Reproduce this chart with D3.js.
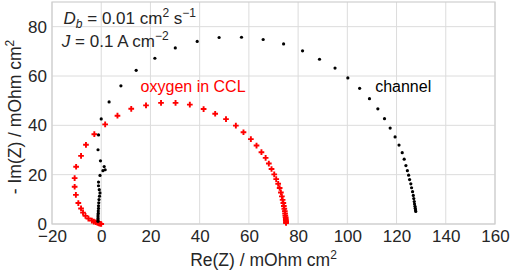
<!DOCTYPE html>
<html>
<head>
<meta charset="utf-8">
<script src="https://cdn.jsdelivr.net/npm/d3@7"></script>
<style>
  body { margin: 0; background: #fff; }
  svg { display: block; font-family: "Liberation Sans", Arial, sans-serif; }
</style>
</head>
<body>
<div id="nyquist-container"></div>
<script>
// channel impedance (black dots), Re / -Im in mOhm cm2
const channelRe = [-1.3, -1.3, -1.3, -1.3, -1.3, -1.2, -1.2, -1.1, -1.1, -1.0, -0.9, -0.7, -0.5, -0.8, -1.1, -1.1,
  -0.5, 0.7, 1.6, 1.2, -0.3, -1.3, -1.1, 0.0, 3.2, 8.0, 14.2, 21.8, 30.1, 39.0, 47.9, 57.0, 65.8, 74.1,
  81.8, 88.7, 95.0, 100.2, 105.0, 109.0, 112.4, 115.1, 117.4, 119.4, 121.0, 122.3, 123.1, 123.8, 124.4,
  124.9, 125.3, 125.8, 126.1, 126.5, 126.8, 127.0, 127.2, 127.3, 127.5, 127.6, 127.7, 127.8];
const channelIm = [1.1, 1.6, 2.2, 2.9, 3.6, 4.4, 5.3, 6.3, 7.4, 8.6, 9.9, 11.3, 12.6, 13.9, 15.5, 17.0,
  19.7, 21.6, 22.0, 23.3, 25.6, 30.1, 36.1, 42.6, 49.5, 56.0, 62.3, 67.2, 71.4, 74.0, 75.6, 75.7, 74.8, 73.0,
  70.2, 66.8, 63.2, 59.2, 55.0, 50.8, 46.7, 42.7, 38.9, 35.3, 32.0, 28.9, 26.3, 23.7, 21.6,
  19.8, 18.0, 16.3, 14.7, 13.1, 11.6, 10.3, 9.1, 8.1, 7.2, 6.4, 5.7, 5.1];

// oxygen in CCL (red plus markers)
const cclRe = [0.0, -0.4, -0.9, -1.5, -2.2, -3.0, -3.8, -5.2, -6.4, -7.4, -8.2, -9.3, -10.3, -10.8, -10.8,
  -10.2, -8.2, -6.2, -2.8, 1.6, 6.6, 12.2, 18.2, 24.3, 30.2, 36.0, 41.6, 46.3, 50.7, 54.7, 57.8, 60.8,
  63.1, 65.1, 66.8, 68.1, 69.2, 70.3, 71.1, 71.9, 72.5, 73.0, 73.4, 73.7, 74.0, 74.2, 74.4, 74.6, 74.7,
  74.8, 74.9, 75.0, 75.0, 75.1, 75.1, 75.1];
const cclIm = [0.0, 0.1, 0.2, 0.4, 0.7, 1.0, 1.4, 2.2, 3.3, 4.6, 6.3, 8.5, 11.8, 15.1, 18.6,
  23.2, 27.6, 32.1, 36.4, 40.4, 43.9, 46.7, 48.1, 49.1, 49.1, 48.4, 46.6, 44.7, 42.5, 39.9, 37.2, 34.4,
  31.8, 29.1, 26.8, 24.5, 22.3, 20.1, 18.2, 16.3, 14.6, 12.8, 11.2, 9.8, 8.5, 7.3, 6.2, 5.2, 4.3,
  3.5, 2.8, 2.2, 1.6, 1.1, 0.7, 0.4];

const xTicks = [-20, 0, 20, 40, 60, 80, 100, 120, 140, 160];
const yTicks = [0, 20, 40, 60, 80];
const xDomain = [-20, 160];
const yDomain = [0, 90];

class NyquistChart {
  constructor(_config) {
    this.config = {
      parentElement: _config.parentElement,
      margin: { top: 2, right: 17, bottom: 48, left: 52 },
      width: 512,
      height: 272
    };
    this.initVis();
  }

  initVis() {
    const vis = this;
    const m = vis.config.margin;
    vis.innerW = vis.config.width - m.left - m.right;
    vis.innerH = vis.config.height - m.top - m.bottom;

    vis.svg = d3.select(vis.config.parentElement)
      .append("svg")
      .attr("width", vis.config.width)
      .attr("height", vis.config.height);

    vis.chart = vis.svg.append("g")
      .attr("transform", `translate(${m.left},${m.top})`);

    vis.x = d3.scaleLinear().domain(xDomain).range([0, vis.innerW]);
    vis.y = d3.scaleLinear().domain(yDomain).range([vis.innerH, 0]);

    vis.updateVis();
  }

  updateVis() {
    const vis = this;
    const m = vis.config.margin;
    const fmt = (d) => (d < 0 ? "\u2212" + Math.abs(d) : String(d));

    // grid
    vis.chart.selectAll(".xgrid")
      .data(xTicks)
      .join("line")
      .attr("class", "xgrid")
      .attr("x1", (d) => vis.x(d)).attr("x2", (d) => vis.x(d))
      .attr("y1", 0).attr("y2", vis.innerH)
      .attr("stroke", "#dcdcdc").attr("stroke-width", 1);

    vis.chart.selectAll(".ygrid")
      .data(yTicks)
      .join("line")
      .attr("class", "ygrid")
      .attr("x1", 0).attr("x2", vis.innerW)
      .attr("y1", (d) => vis.y(d)).attr("y2", (d) => vis.y(d))
      .attr("stroke", "#dcdcdc").attr("stroke-width", 1);

    vis.chart.append("rect")
      .attr("width", vis.innerW).attr("height", vis.innerH)
      .attr("fill", "none").attr("stroke", "#cfcfcf").attr("stroke-width", 1.2);

    // axes: labels only, no tick marks
    const xAxis = vis.chart.append("g")
      .attr("transform", `translate(0,${vis.innerH})`)
      .call(d3.axisBottom(vis.x).tickValues(xTicks).tickFormat(fmt).tickSize(0).tickPadding(6));
    const yAxis = vis.chart.append("g")
      .call(d3.axisLeft(vis.y).tickValues(yTicks).tickFormat(fmt).tickSize(0).tickPadding(5));
    [xAxis, yAxis].forEach((a) => {
      a.select(".domain").remove();
      a.selectAll("text")
        .attr("fill", "#262626")
        .attr("font-size", 17)
        .attr("font-family", "Liberation Sans, Arial, sans-serif");
    });

    // series
    vis.chart.selectAll(".ccl-point")
      .data(d3.zip(cclRe, cclIm))
      .join("path")
      .attr("class", "ccl-point")
      .attr("transform", (d) => `translate(${vis.x(d[0])},${vis.y(d[1])})`)
      .attr("d", d3.symbol(d3.symbolCross, 18))
      .attr("fill", "#ff0000");

    vis.chart.selectAll(".channel-point")
      .data(d3.zip(channelRe, channelIm))
      .join("circle")
      .attr("class", "channel-point")
      .attr("cx", (d) => vis.x(d[0]))
      .attr("cy", (d) => vis.y(d[1]))
      .attr("r", 1.6)
      .attr("fill", "#000");

    // axis titles
    const xl = vis.svg.append("text")
      .attr("x", m.left + vis.innerW / 2 - 10).attr("y", 266)
      .attr("text-anchor", "middle").attr("fill", "#262626").attr("font-size", 17.5)
      .text("Re(Z) / mOhm cm");
    xl.append("tspan").attr("dy", -7).attr("font-size", 12).text("2");

    const yl = vis.svg.append("text")
      .attr("transform", `translate(21,${m.top + vis.innerH / 2 + 4}) rotate(-90)`)
      .attr("text-anchor", "middle").attr("fill", "#262626").attr("font-size", 17.5)
      .text("- Im(Z) / mOhm cm");
    yl.append("tspan").attr("dy", -7).attr("font-size", 12).text("2");

    // annotations
    const note1 = vis.chart.append("text")
      .attr("x", vis.x(-15.3)).attr("y", 22)
      .attr("fill", "#262626").attr("font-size", 17);
    note1.append("tspan").attr("font-style", "italic").text("D");
    note1.append("tspan").attr("font-style", "italic").attr("font-size", 12).attr("dy", 4).text("b");
    note1.append("tspan").attr("dy", -4).text(" = 0.01 cm");
    note1.append("tspan").attr("dy", -7).attr("font-size", 12).text("2");
    note1.append("tspan").attr("dy", 7).text(" s");
    note1.append("tspan").attr("dy", -7).attr("font-size", 12).text("\u22121");

    const note2 = vis.chart.append("text")
      .attr("x", vis.x(-16)).attr("y", 45)
      .attr("fill", "#262626").attr("font-size", 17);
    note2.append("tspan").attr("font-style", "italic").text("J");
    note2.append("tspan").text(" = 0.1 A cm");
    note2.append("tspan").attr("dy", -7).attr("font-size", 12).text("\u22122");

    vis.chart.append("text")
      .attr("x", vis.x(16)).attr("y", 90)
      .attr("fill", "#ff0000").attr("font-size", 16)
      .text("oxygen in CCL");

    vis.chart.append("text")
      .attr("x", vis.x(111.3)).attr("y", 90)
      .attr("fill", "#000").attr("font-size", 16)
      .text("channel");
  }
}

new NyquistChart({ parentElement: "#nyquist-container" });
</script>
</body>
</html>
